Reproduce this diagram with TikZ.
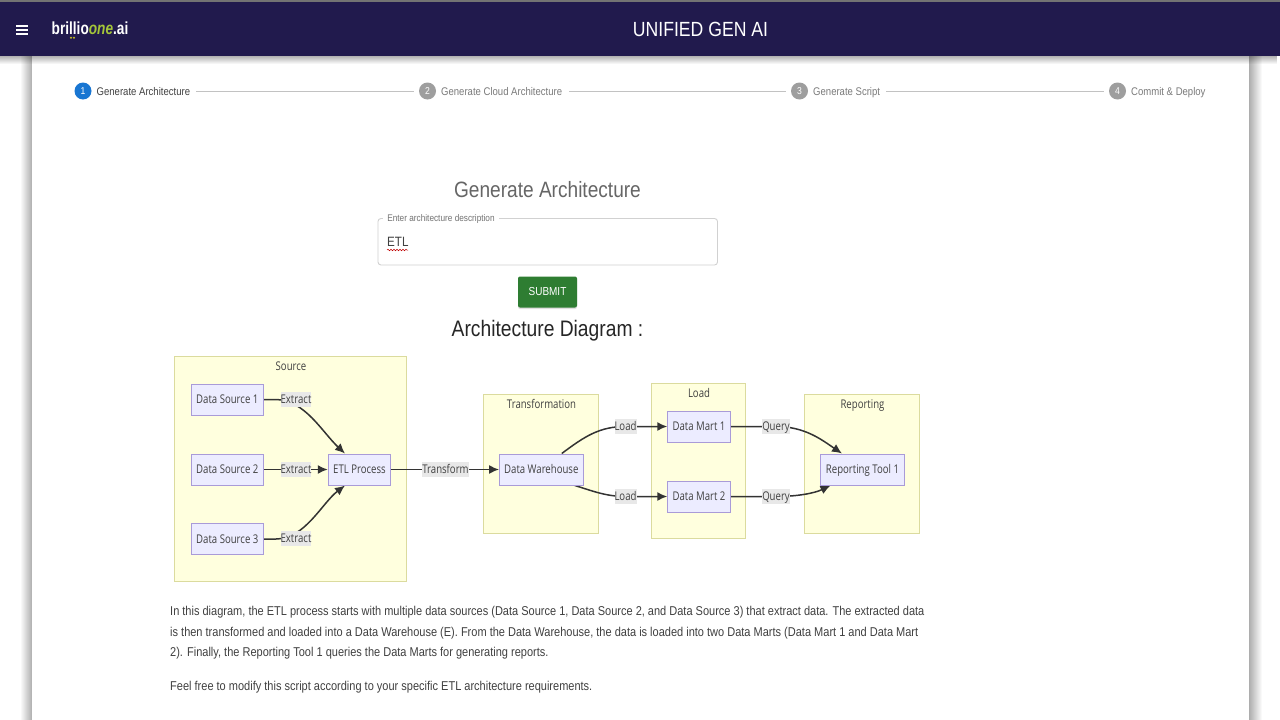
\documentclass[tikz,border=0pt]{standalone}
\usepackage{fontspec}
\setmainfont{Liberation Sans}[FakeStretch=0.86]
\newfontfamily\mmd{Open Sans}[FakeStretch=0.8]
\newfontfamily\logof{Liberation Sans}[FakeStretch=0.78]
\usetikzlibrary{arrows.meta,decorations.pathmorphing,shadows,fadings,calc}
\definecolor{barcol}{HTML}{211A4D}
\definecolor{stepblue}{HTML}{1976D2}
\definecolor{stepgray}{HTML}{9E9E9E}
\definecolor{subfill}{HTML}{FFFFDE}
\definecolor{subline}{HTML}{DBDB9E}
\definecolor{nodefill}{HTML}{ECECFF}
\definecolor{nodeline}{HTML}{A99BD8}
\definecolor{edgecol}{HTML}{333333}
\definecolor{lblfill}{HTML}{E8E8E8}
\definecolor{btn}{HTML}{2E7D32}
\definecolor{txtg}{HTML}{666666}
\definecolor{txtd}{HTML}{404040}
\definecolor{logodot}{HTML}{C8C020}
\pgfdeclarelayer{back}\pgfdeclarelayer{edge}
\pgfsetlayers{back,edge,main}
\tikzset{
 x=1pt,y=-1pt,
 sub/.style={draw=subline,fill=subfill,line width=1pt},
 subtitle/.style={font=\mmd\fontsize{12}{14}\selectfont,text=txtd,inner sep=0pt,text height=10pt,text depth=2pt},
 box/.style={draw=nodeline,fill=nodefill,line width=1pt,font=\mmd\fontsize{12}{14}\selectfont,text=txtd,inner sep=0pt,minimum height=31pt,text height=10pt,text depth=2pt},
 lbl/.style={fill=lblfill,font=\mmd\fontsize{12}{14}\selectfont,text=txtd,inner xsep=0pt,inner ysep=1pt,text height=10.5pt,text depth=2.5pt},
 edge/.style={draw=edgecol,line width=1.5pt,-{Latex[length=10pt,width=9pt]}},
 stepc/.style={circle,minimum size=17pt,inner sep=0pt,text=white,font=\fontsize{10}{12}\selectfont},
 stept/.style={font=\fontsize{11.1}{13}\selectfont,inner sep=0pt,anchor=base west},
 stepl/.style={draw=black!24,line width=0.7pt},
 para/.style={font=\fontsize{12.8}{15}\selectfont,text=txtd,inner sep=0pt,anchor=base west},
}
\begin{document}
\begin{tikzpicture}
\useasboundingbox (0,0) rectangle (1280,720);
\begin{pgfonlayer}{back}
\fill[white] (0,0) rectangle (1280,720);
% card shadows
\shade[left color=white,right color=black!32] (20,56) rectangle (32,720);
\shade[left color=black!32,right color=white] (1249,56) rectangle (1262,720);
\fill[white] (32,56) rectangle (1249,720);
\fill[black,opacity=0.3,path fading=south] (0,56) rectangle (1280,64);
\fill[black!55] (0,0) rectangle (1280,2);
\fill[barcol] (0,2) rectangle (1280,56);
\end{pgfonlayer}

% header
\foreach \yy in {25.5,29.5,33.5}{\draw[white,line width=2pt] (16,\yy) -- (28,\yy);}
\node[inner sep=0pt,anchor=base west,text=white,font=\logof\bfseries\fontsize{17.5}{20}\selectfont] (logo) at (51.5,34.5)
  {brillio\textcolor[HTML]{A4C639}{\itshape one}.ai};
\fill[logodot] (71,37.8) circle (1.1) (74,37.8) circle (1.1);
\node[text=white,font=\fontsize{20.5}{24}\selectfont,inner sep=0pt] (title) at (700.5,29.5) {UNIFIED GEN AI};

% stepper
\node[stepc,fill=stepblue] (c1) at (83,91) {1};
\node[stepc,fill=stepgray] (c2) at (427.5,91) {2};
\node[stepc,fill=stepgray] (c3) at (799.5,91) {3};
\node[stepc,fill=stepgray] (c4) at (1117.5,91) {4};
\node[stept,text=txtd] (t1) at (96.5,95) {Generate Architecture};
\node[stept,text=black!52] (t2) at (441,95) {Generate Cloud Architecture};
\node[stept,text=black!52] (t3) at (813,95) {Generate Script};
\node[stept,text=black!52] (t4) at (1131,95) {Commit \& Deploy};
\coordinate (a1) at (196,91); \coordinate (a2) at (569,91); \coordinate (a3) at (886,91);
\draw[stepl] (a1) -- ($(c2.west)+(-5,0)$);
\draw[stepl] (a2) -- ($(c3.west)+(-5,0)$);
\draw[stepl] (a3) -- ($(c4.west)+(-5,0)$);

% form
\node[text=txtg,font=\fontsize{22.2}{26}\selectfont,inner sep=0pt] (head) at (547.5,190) {Generate Architecture};
\draw[black!18,line width=0.9pt,rounded corners=3pt] (378,218.5) rectangle (717.5,265);
\node[fill=white,text=black!55,font=\fontsize{9.6}{12}\selectfont,inner xsep=4pt,inner ysep=1pt] (hint) at (441,219) {Enter architecture description};
\node[text=txtd,font=\fontsize{13.5}{17}\selectfont,inner sep=0pt,anchor=base west] (etl) at (387,246) {ETL};
\draw[red!75!black,line width=0.5pt,decorate,decoration={snake,amplitude=0.8pt,segment length=3pt}] (387,250) -- (408,250);
\node[fill=btn,rounded corners=2pt,minimum width=59pt,minimum height=31pt,inner sep=0pt,text=white,font=\fontsize{11.6}{15}\selectfont,drop shadow={opacity=0.25,shadow xshift=0pt,shadow yshift=-1.5pt}] (submit) at (547.5,292) {SUBMIT};
\node[text=black!85,font=\fontsize{22.4}{27}\selectfont,inner sep=0pt] (archd) at (547.5,331) {Architecture Diagram :};

% subgraphs
\begin{pgfonlayer}{back}
\draw[sub] (174.7,356.7) rectangle (406.7,581.7);
\draw[sub] (483.7,394.7) rectangle (598.7,533.3);
\draw[sub] (651.7,383.7) rectangle (745.7,538.7);
\draw[sub] (804.7,394.7) rectangle (919.7,533.3);
\end{pgfonlayer}
\node[subtitle] (s1) at (291,366) {Source};
\node[subtitle] (s2) at (541.5,404.5) {Transformation};
\node[subtitle] (s3) at (699,393) {Load};
\node[subtitle] (s4) at (862.5,404.5) {Reporting};

% nodes
\node[box,minimum width=72.5pt] (ds1) at (227.3,399.5) {Data Source 1};
\node[box,minimum width=72.5pt] (ds2) at (227.3,469.5) {Data Source 2};
\node[box,minimum width=72.5pt] (ds3) at (227.3,539) {Data Source 3};
\node[box,minimum width=62.5pt] (etlp) at (359.5,469.5) {ETL Process};
\node[box,minimum width=83.5pt] (dw) at (541.3,469.5) {Data Warehouse};
\node[box,minimum width=62.5pt] (dm1) at (699,426.5) {Data Mart 1};
\node[box,minimum width=62.5pt] (dm2) at (699,496.5) {Data Mart 2};
\node[box,minimum width=83.5pt] (rt) at (862.5,469.5) {Reporting Tool 1};

% labels
\node[lbl] (e1) at (296,399.5) {Extract};
\node[lbl] (e2) at (296,469.5) {Extract};
\node[lbl] (e3) at (296,538.5) {Extract};
\node[lbl] (tf) at (445.5,469.5) {Transform};
\node[lbl] (l1) at (625.5,426.5) {Load};
\node[lbl] (l2) at (625.5,496.5) {Load};
\node[lbl] (q1) at (776,426.5) {Query};
\node[lbl] (q2) at (776,496.5) {Query};

% edges
\begin{pgfonlayer}{edge}
\draw[edge] (ds1.east) -- (276,399.5) .. controls (305,400) and (322,432) .. ($(etlp.north)+(-14.5,0)$);
\draw[edge] (ds2.east) -- (etlp.west);
\draw[edge] (ds3.east) -- (276,539) .. controls (305,539) and (322,503) .. ($(etlp.south)+(-14.5,0)$);
\draw[edge] (etlp.east) -- (dw.west);
\draw[edge] ($(dw.north)+(20.5,0)$) .. controls (585,436) and (600,426.5) .. (l1.center) -- (dm1.west);
\draw[edge] ($(dw.south)+(33.5,0)$) .. controls (590,490) and (605,496.5) .. (l2.center) -- (dm2.west);
\draw[edge] (dm1.east) -- (q1.center) .. controls (805,426.5) and (822,440) .. ($(rt.north)+(-20.5,0)$);
\draw[edge] (dm2.east) -- (q2.center) .. controls (798,496.5) and (815,493) .. ($(rt.south)+(-32,0)$);
\end{pgfonlayer}

% text
\node[para] (p1) at (170,615.5) {In this diagram, the ETL process starts with multiple data sources (Data Source 1, Data Source 2, and Data Source 3) that extract data. The extracted data};
\node[para] (p2) at (170,636) {is then transformed and loaded into a Data Warehouse (E). From the Data Warehouse, the data is loaded into two Data Marts (Data Mart 1 and Data Mart};
\node[para] (p3) at (170,656) {2). Finally, the Reporting Tool 1 queries the Data Marts for generating reports.};
\node[para] (p4) at (170,690) {Feel free to modify this script according to your specific ETL architecture requirements.};
\end{tikzpicture}
\end{document}
